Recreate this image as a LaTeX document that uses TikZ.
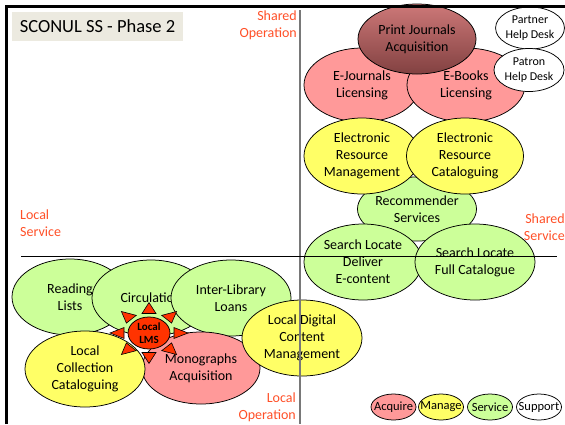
\documentclass[tikz,border=0pt]{standalone}
\usepackage{fontspec}
\setmainfont{Carlito}
\usetikzlibrary{shapes.geometric}

\definecolor{acqfill}{RGB}{255,153,153}
\definecolor{manfill}{RGB}{255,255,102}
\definecolor{srvfill}{RGB}{204,255,153}
\definecolor{zonered}{RGB}{255,80,40}
\definecolor{titlefill}{RGB}{236,234,224}
\definecolor{lmsred}{RGB}{255,51,0}
\definecolor{axisgray}{RGB}{120,120,120}
\definecolor{pjtop}{RGB}{205,120,120}
\definecolor{pjmid}{RGB}{245,160,160}
\definecolor{pjbot}{RGB}{130,65,65}

\tikzset{
  blob/.style={ellipse, draw, line width=0.75pt, inner sep=0pt, align=center,
    minimum width=118pt, minimum height=76pt, font=\fontsize{14}{17}\selectfont},
  acq/.style={blob, fill=acqfill},
  man/.style={blob, fill=manfill},
  srv/.style={blob, fill=srvfill},
  supp/.style={blob, fill=white, font=\fontsize{12}{15}\selectfont},
  zone/.style={text=zonered, inner sep=0pt, font=\fontsize{14}{17}\selectfont},
  legend/.style={ellipse, draw, line width=0.75pt, inner sep=0pt,
    minimum width=45pt, minimum height=26pt, font=\fontsize{12.5}{15}\selectfont},
  spike/.style={draw, line width=0.6pt, fill=lmsred}
}

\begin{document}
\begin{tikzpicture}[x=1pt, y=-1pt]
  \useasboundingbox [fill=white] (0,0) rectangle (565,424);

  \node (rec) [srv, minimum width=119pt, minimum height=64pt] at (417,209) {Recommender\\Services};
  \node (ejl) [acq, minimum width=116pt, minimum height=74pt] at (362,85) {E-Journals\\Licensing};
  \node (ebl) [acq, minimum height=74pt] at (466,85) {E-Books\\Licensing};
  \node (pja) [blob, minimum height=70pt, top color=pjtop, middle color=pjmid,
    bottom color=pjbot] at (417,39) {Print Journals\\Acquisition};
  \node (phd) [supp, minimum width=67pt, minimum height=42pt] at (530,28) {Partner\\Help Desk};
  \node (pat) [supp, minimum width=70pt, minimum height=43pt] at (529,70) {Patron\\Help Desk};
  \node (erm) [man, minimum width=116pt] at (362,156) {Electronic\\Resource\\Management};
  \node (erc) [man, minimum width=117pt] at (465,156) {Electronic\\Resource\\Cataloguing};
  \node (sld) [srv] at (363,262) {Search Locate\\Deliver\\E-content};
  \node (slf) [srv, minimum width=120pt] at (475,262) {Search Locate\\Full Catalogue};

  \node (rdl) [srv, minimum width=116pt] at (70,297) {Reading\\Lists};
  \node (cir) [srv] at (151,298) {Circulation};
  \node (ill) [srv, minimum width=120pt] at (231,298) {Inter-Library\\Loans};
  \node (mon) [acq, minimum height=72pt] at (201,368) {Monographs\\Acquisition};
  \node (lcc) [man, minimum width=120pt] at (85,369) {Local\\Collection\\Cataloguing};
  \node (ldc) [man, minimum width=120pt] at (302,338) {Local Digital\\Content\\Management};

  \coordinate (vtop) at (300,10);
  \coordinate (vbot) at (300,424);
  \coordinate (hleft) at (21,256);
  \coordinate (hright) at (557,256);
  \draw [axisgray, line width=1.2pt] (vtop) -- (vbot);
  \draw [line width=0.8pt] (hleft) -- (hright);

  \node (lms) [ellipse, draw, line width=0.75pt, fill=lmsred, inner sep=0pt,
    minimum width=42pt, minimum height=32pt, align=center,
    font=\fontsize{11}{13}\selectfont\bfseries] at (149,333) {Local\\LMS};
  \foreach \a in {0,45,...,315}
    \draw [spike, shift={(lms.center)}, yscale=0.78, rotate=\a] (25,-7) -- (39,0) -- (25,7) -- cycle;

  \node (title) [fill=titlefill, minimum width=171pt, minimum height=29pt, inner sep=0pt,
    font=\fontsize{18.5}{22}\selectfont] at (97.5,26.5) {SCONUL SS - Phase 2};
  \node (so) [zone, align=right, anchor=north east] at (297,10.5) {Shared\\Operation};
  \node (ls) [zone, align=left, anchor=north west] at (20,210) {Local\\Service};
  \node (ss) [zone, align=right, anchor=north east] at (565,214) {Shared\\Service};
  \node (lo) [zone, align=right, anchor=north east] at (296,393) {Local\\Operation};

  \node (kacq) [legend, fill=acqfill] at (393.5,407) {\makebox[0pt]{Acquire}};
  \node (kman) [legend, fill=manfill] at (441,407) {\makebox[0pt]{Manage}};
  \node (ksrv) [legend, fill=srvfill] at (490,407) {\makebox[0pt]{Service}};
  \node (ksup) [legend, fill=white] at (539,407) {\makebox[0pt]{Support}};

  \draw [line width=3pt] (6.5,424) -- (6.5,6.5) -- (565,6.5);
\end{tikzpicture}
\end{document}
